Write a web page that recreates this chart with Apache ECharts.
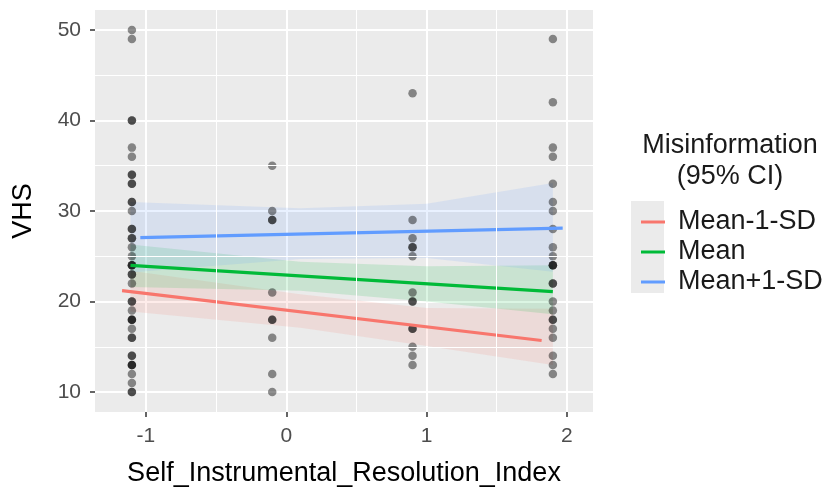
<!DOCTYPE html>
<html>
<head>
<meta charset="utf-8">
<script src="https://cdn.jsdelivr.net/npm/echarts@6/dist/echarts.min.js"></script>
<style>
  html, body { margin: 0; padding: 0; background: #fff; }
  #chart { width: 832px; height: 496px; }
</style>
</head>
<body>
<div id="chart"></div>
<script>
// x positions of the four observed levels
const xLevels = [-1.1, -0.1, 0.9, 1.9];
// VHS values per level (repeats = overlapping points)
const vhsAtNeg1 = [50, 49, 40, 40, 37, 36, 34, 34, 33, 33, 31, 31, 30, 28, 28, 27, 27, 26, 25, 24, 24, 24, 23, 23, 22, 20, 20, 19, 18, 18, 18, 17, 16, 16, 14, 14, 13, 13, 13, 12, 11, 10, 10];
const vhsAt0 = [35, 30, 29, 29, 21, 18, 18, 16, 12, 10];
const vhsAt1 = [43, 29, 27, 26, 26, 25, 21, 20, 20, 17, 17, 15, 14, 13];
const vhsAt2 = [49, 42, 37, 36, 33, 31, 30, 28, 26, 25, 24, 24, 24, 22, 22, 20, 19, 18, 18, 17, 16, 14, 13, 12];

// fitted lines
const groupNames = ["Mean-1-SD", "Mean", "Mean+1-SD"];
const lowX = [-1.17, 1.82], lowFit = [21.2, 15.7];
const meanX = [-1.11, 1.9], meanFit = [24.0, 21.1];
const highX = [-1.04, 1.97], highFit = [27.05, 28.1];

// 95% CI ribbons
const bandX = [-1.11, 0.1, 1.0, 1.9];
const lowLo = [18.9, 17.1, 15.1, 13.0], lowHi = [23.4, 20.8, 19.3, 19.2];
const meanLo = [21.6, 21.2, 20.0, 18.6], meanHi = [26.3, 24.4, 23.9, 24.0];
const highLo = [23.2, 24.7, 24.8, 23.3], highHi = [31.0, 30.3, 30.8, 33.1];

const yTicks = [10, 20, 30, 40, 50];
const xTicks = [-1, 0, 1, 2];
const yMinor = [15, 25, 35, 45];
const xMinor = [-0.5, 0.5, 1.5];

const FONT = "'Liberation Sans', Arial, sans-serif";
const colors = ["#F8766D", "#00BA38", "#619CFF"];

const points = [];
[vhsAtNeg1, vhsAt0, vhsAt1, vhsAt2].forEach((vals, i) => {
  vals.forEach((v) => points.push([xLevels[i], v]));
});

const band = (lo, hi, color) => ({
  type: "custom",
  silent: true,
  z: 2,
  clip: true,
  data: [[bandX[0], lo[0]]],
  renderItem: (params, api) => {
    const pts = bandX.map((x, i) => api.coord([x, hi[i]]));
    for (let i = bandX.length - 1; i >= 0; i--) pts.push(api.coord([bandX[i], lo[i]]));
    return { type: "polygon", shape: { points: pts }, style: { fill: color, opacity: 0.14 } };
  },
});

const fitLine = (name, xs, ys, color) => ({
  name: name,
  type: "line",
  z: 4,
  symbol: "none",
  data: xs.map((x, i) => [x, ys[i]]),
  lineStyle: { color: color, width: 3.2 },
  itemStyle: { color: color },
});

const chart = echarts.init(document.getElementById("chart"));
chart.setOption({
  animation: false,
  textStyle: { fontFamily: FONT },
  grid: { left: 95, top: 10, width: 498, height: 402, show: true, backgroundColor: "#EBEBEB", borderWidth: 0 },
  xAxis: {
    type: "value",
    min: -1.363,
    max: 2.186,
    name: "Self_Instrumental_Resolution_Index",
    nameLocation: "middle",
    nameGap: 48,
    nameTextStyle: { fontSize: 27, color: "#000", fontFamily: FONT },
    axisLine: { show: false, onZero: false },
    axisTick: { show: true, length: 5, lineStyle: { color: "#333", width: 1.5 }, customValues: xTicks },
    axisLabel: { fontSize: 21, color: "#4D4D4D", margin: 14, customValues: xTicks, fontFamily: FONT },
    splitLine: { show: true, lineStyle: { color: "#fff", width: 2 } },
  },
  yAxis: {
    type: "value",
    min: 7.8,
    max: 52.2,
    name: "VHS",
    nameLocation: "middle",
    nameGap: 58,
    nameTextStyle: { fontSize: 27, color: "#000", fontFamily: FONT },
    axisLine: { show: false, onZero: false },
    axisTick: { show: true, length: 5, lineStyle: { color: "#333", width: 1.5 }, customValues: yTicks },
    axisLabel: { fontSize: 21, color: "#4D4D4D", margin: 14, customValues: yTicks, fontFamily: FONT },
    splitLine: { show: true, lineStyle: { color: "#fff", width: 2 } },
  },
  legend: {
    data: groupNames,
    orient: "vertical",
    left: 636,
    top: 202,
    itemGap: 0,
    itemWidth: 24,
    itemHeight: 3,
    icon: "rect",
    textStyle: { fontSize: 27, lineHeight: 30, color: "#1a1a1a", padding: [0, 0, 0, 8], fontFamily: FONT },
  },
  graphic: [
    { type: "rect", left: 631, top: 201, shape: { width: 33, height: 92 }, style: { fill: "#EBEBEB" }, z: -1 },
    {
      type: "text",
      x: 730,
      y: 130,
      style: { text: "Misinformation\n(95% CI)", textAlign: "center", fontSize: 27, lineHeight: 31, fill: "#1a1a1a", fontFamily: FONT },
    },
  ],
  series: [
    {
      type: "line",
      z: 1,
      silent: true,
      data: [],
      markLine: {
        silent: true,
        symbol: "none",
        label: { show: false },
        lineStyle: { color: "#fff", width: 1, type: "solid" },
        data: yMinor.map((v) => ({ yAxis: v })).concat(xMinor.map((v) => ({ xAxis: v }))),
      },
    },
    band(lowLo, lowHi, colors[0]),
    band(meanLo, meanHi, colors[1]),
    band(highLo, highHi, colors[2]),
    {
      type: "scatter",
      z: 3,
      symbolSize: 8.5,
      data: points,
      itemStyle: { color: "rgba(0,0,0,0.55)" },
    },
    fitLine(groupNames[0], lowX, lowFit, colors[0]),
    fitLine(groupNames[1], meanX, meanFit, colors[1]),
    fitLine(groupNames[2], highX, highFit, colors[2]),
  ],
});
</script>
</body>
</html>
